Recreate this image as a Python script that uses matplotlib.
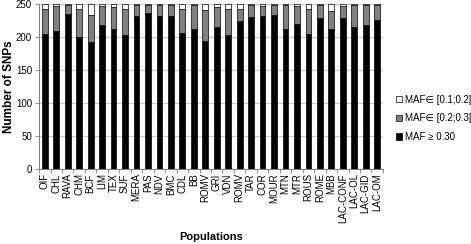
import numpy as np
import matplotlib
matplotlib.use('Agg')
import matplotlib.pyplot as plt
from matplotlib.ticker import FixedLocator

plt.rcParams['font.family'] = ['Liberation Sans', 'DejaVu Sans']

populations = ['OIF', 'CHL', 'RAVA', 'CHM', 'BCF', 'LIM', 'TEX', 'SUF', 'MERA', 'PAS',
               'NDV', 'BMC', 'CDL', 'BB', 'ROMV', 'GRI', 'VDN', 'ROMV', 'TAR', 'COR',
               'MOUR', 'MTN', 'MTR', 'ROUS', 'ROME', 'MBB', 'LAC-CONF', 'LAC-OL',
               'LAC-GID', 'LAC-OM']
# MAF >= 0.30
maf_high = [204, 209, 235, 200, 193, 218, 213, 203, 232, 237,
            232, 232, 206, 213, 194, 215, 203, 224, 231, 232,
            234, 212, 220, 204, 229, 212, 229, 216, 219, 226]
# MAF in [0.2;0.3[
maf_mid = [39, 38, 14, 43, 41, 29, 33, 40, 17, 12,
           17, 17, 37, 36, 47, 31, 40, 19, 18, 15,
           15, 37, 27, 39, 20, 27, 18, 33, 30, 23]
# MAF in [0.1;0.2[
maf_low = [7, 3, 1, 7, 16, 3, 4, 7, 1, 1,
           1, 1, 7, 1, 9, 4, 7, 7, 1, 3,
           1, 1, 3, 7, 1, 11, 3, 1, 1, 1]

legend_labels = ['MAF\u2208 [0.1;0.2[', 'MAF\u2208 [0.2;0.3[', 'MAF \u2265 0.30']

x = np.arange(len(populations))
fig = plt.figure(figsize=(4.71, 2.44), dpi=100)
ax = fig.add_axes([0.083, 0.307, 0.730, 0.676])

w = 0.5
high = np.array(maf_high)
mid = np.array(maf_mid)
low = np.array(maf_low)
b1 = ax.bar(x, high, w, color='black', edgecolor='black', linewidth=0.5, zorder=3)
b2 = ax.bar(x, mid, w, bottom=high, color='#808080', edgecolor='black', linewidth=0.5, zorder=3)
b3 = ax.bar(x, low, w, bottom=high + mid, color='white', edgecolor='black', linewidth=0.5, zorder=3)

ax.set_xlim(-0.5, len(populations) - 0.5)
ax.set_ylim(0, 250)
ax.set_yticks(range(0, 251, 50))
ax.yaxis.grid(True, color='#c8c8c8', linewidth=0.8, zorder=0)
ax.set_xticks(x)
ax.set_xticklabels(populations, rotation=90, fontsize=7)
ax.xaxis.set_minor_locator(FixedLocator(np.arange(-0.5, len(populations), 1)))
ax.tick_params(axis='x', which='major', length=0, pad=3)
ax.tick_params(axis='x', which='minor', length=3, color='#808080', width=0.6)
ax.tick_params(axis='y', labelsize=7, length=3, color='#808080', width=0.6, pad=2)

for s in ['top', 'right']:
    ax.spines[s].set_visible(False)
for s in ['left', 'bottom']:
    ax.spines[s].set_color('#808080')
    ax.spines[s].set_linewidth(0.8)

ax.set_ylabel('Number of SNPs', fontsize=8.5, fontweight='bold', va='center')
ax.yaxis.set_label_coords(-0.087, 0.5)
ax.set_xlabel('Populations', fontsize=8, fontweight='bold', va='center')
ax.xaxis.set_label_coords(0.5, -0.412)

fig.legend([b3, b2, b1], legend_labels, loc='center left', bbox_to_anchor=(0.84, 0.515),
           frameon=False, fontsize=7, handlelength=0.65, handleheight=0.65,
           handletextpad=0.3, labelspacing=0.9, borderaxespad=0, borderpad=0)

fig.savefig('out.png', dpi=100)
